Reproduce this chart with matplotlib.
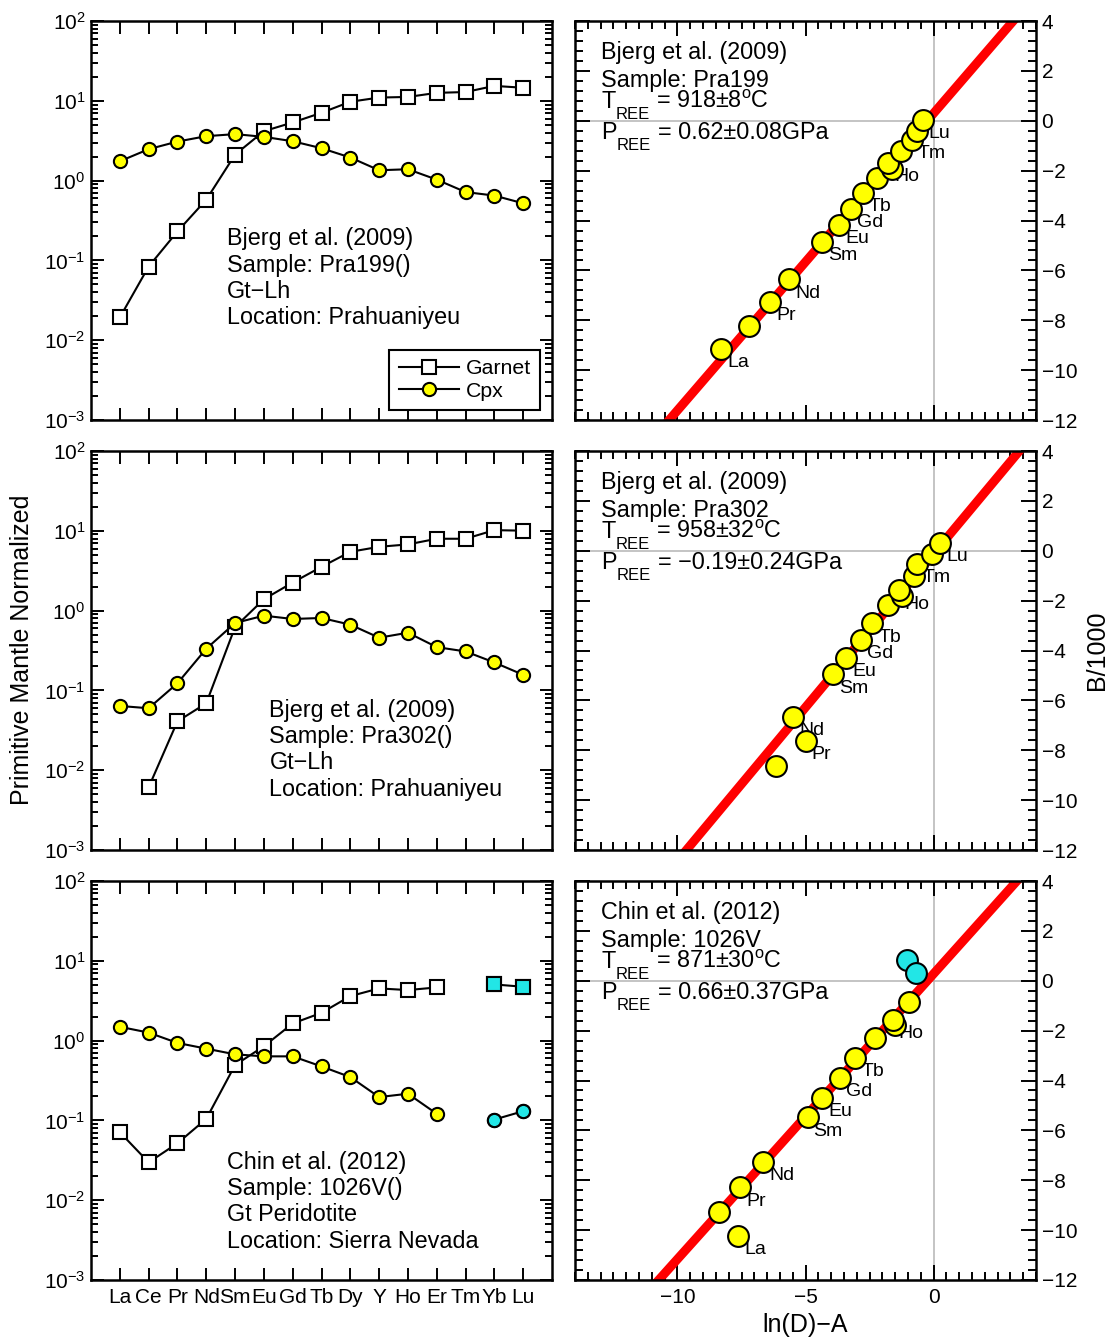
import numpy as np
import matplotlib.pyplot as plt
from matplotlib.ticker import MultipleLocator, LogLocator, NullFormatter

plt.rcParams['font.family'] = ['Liberation Sans', 'DejaVu Sans']
plt.rcParams['mathtext.fontset'] = 'custom'
plt.rcParams['mathtext.rm'] = 'Liberation Sans'
plt.rcParams['mathtext.it'] = 'Liberation Sans:italic'
plt.rcParams['mathtext.bf'] = 'Liberation Sans:bold'

nan = np.nan
ree = ['La', 'Ce', 'Pr', 'Nd', 'Sm', 'Eu', 'Gd', 'Tb', 'Dy', 'Y', 'Ho', 'Er', 'Tm', 'Yb', 'Lu']
labelled = ['La', 'Pr', 'Nd', 'Sm', 'Eu', 'Gd', 'Tb', 'Ho', 'Tm', 'Lu']

# primitive mantle normalized REE, garnet and cpx
gt_pra199 = [0.0193, 0.0838, 0.231, 0.577, 2.12, 4.17, 5.36, 7.09, 9.75, 11.0, 11.2, 12.6, 12.9, 15.4, 14.6]
cpx_pra199 = [1.75, 2.48, 3.09, 3.61, 3.83, 3.54, 3.12, 2.55, 1.95, 1.35, 1.39, 1.03, 0.72, 0.65, 0.52]
gt_pra302 = [nan, 0.0061, 0.041, 0.069, 0.623, 1.39, 2.25, 3.54, 5.46, 6.31, 6.76, 7.96, 7.96, 10.2, 10.05]
cpx_pra302 = [0.0639, 0.0598, 0.123, 0.333, 0.700, 0.865, 0.786, 0.809, 0.667, 0.458, 0.529, 0.349, 0.308, 0.224, 0.157]
gt_1026v = [0.0711, 0.0298, 0.0517, 0.1045, 0.494, 0.849, 1.64, 2.23, 3.61, 4.51, 4.30, 4.64, nan, 5.06, 4.73]
cpx_1026v = [1.49, 1.26, 0.935, 0.793, 0.673, 0.635, 0.635, 0.475, 0.349, 0.196, 0.216, 0.121, nan, 0.1025, 0.1305]

# REE thermometer: ln(D)-A vs B/1000
lnd_pra199 = [-8.29, -7.20, -6.39, -5.64, -4.36, -3.68, -3.21, -2.76, -2.20, -1.64, -1.77, -1.26, -0.86, -0.65, -0.42]
b_pra199 = [-9.14, -8.21, -7.27, -6.36, -4.85, -4.18, -3.53, -2.89, -2.29, -1.93, -1.68, -1.22, -0.75, -0.41, 0.03]
lnd_pra302 = [nan, -6.15, -5.00, -5.48, -3.94, -3.41, -2.83, -2.39, -1.79, -1.24, -1.36, -0.75, -0.65, -0.08, 0.26]
b_pra302 = [nan, -8.64, -7.61, -6.66, -4.96, -4.29, -3.58, -2.91, -2.19, -1.82, -1.58, -1.02, -0.51, -0.11, 0.32]
lnd_1026v = [-7.62, -8.36, -7.54, -6.66, -4.92, -4.36, -3.67, -3.06, -2.28, -1.51, -1.60, -0.95, nan, -1.03, -0.69]
b_1026v = [-10.23, -9.26, -8.29, -7.27, -5.48, -4.69, -3.88, -3.08, -2.28, -1.79, -1.57, -0.87, nan, 0.82, 0.31]

refs = ['Bjerg et al. (2009)', 'Bjerg et al. (2009)', 'Chin et al. (2012)']
samples = ['Pra199', 'Pra302', '1026V']
rocks = ['Gt\u2212Lh', 'Gt\u2212Lh', 'Gt Peridotite']
locations = ['Prahuaniyeu', 'Prahuaniyeu', 'Sierra Nevada']
t_ree = [918, 958, 871]
t_err = [8, 32, 30]
p_ree = [0.62, -0.19, 0.66]
p_err = [0.08, 0.24, 0.37]
fit_intercept = [0.30, -0.12, 0.28]
excluded = [[], [], ['Yb', 'Lu']]

gt_all = [gt_pra199, gt_pra302, gt_1026v]
cpx_all = [cpx_pra199, cpx_pra302, cpx_1026v]
lnd_all = [lnd_pra199, lnd_pra302, lnd_1026v]
b_all = [b_pra199, b_pra302, b_1026v]

text_pos = [(0.295, 0.438), (0.387, 0.334), (0.295, 0.279)]

YEL = '#ffff00'
CYAN = '#22e6e6'
GREY = '#b4b4b4'
FS = 16.8

fig = plt.figure(figsize=(11.14, 13.42), dpi=100)
col_x = [0.0817, 0.5162]
row_y = [0.6870, 0.3666, 0.0462]
w, h = 0.4138, 0.2973


def style(ax):
    for s in ax.spines.values():
        s.set_linewidth(1.8)
    ax.tick_params(which='both', direction='in', top=True, right=True, width=1.4,
                   labelsize=15)
    ax.tick_params(which='major', length=9)
    ax.tick_params(which='minor', length=5)


def sub_line(ax, x, y, main, sub, rest):
    # letter, lowered subscript, then the rest of the line
    t1 = ax.text(x, y, main, transform=ax.transAxes, fontsize=FS,
                 ha='left', va='baseline', zorder=5)
    t2 = ax.annotate(sub, xy=(1, y), xycoords=(t1, 'axes fraction'),
                     xytext=(0.3, -8), textcoords='offset points', fontsize=12,
                     ha='left', va='baseline', zorder=5)
    ax.annotate(rest, xy=(1, y), xycoords=(t2, 'axes fraction'),
                xytext=(4.5, 0), textcoords='offset points', fontsize=FS,
                ha='left', va='baseline', zorder=5)


for r in range(3):
    # ---- left: REE patterns
    ax = fig.add_axes([col_x[0], row_y[r], w, h])
    idx = np.arange(len(ree))
    gt = np.array(gt_all[r], float)
    cpx = np.array(cpx_all[r], float)
    ax.plot(idx, gt, '-s', color='k', lw=1.5, ms=10, mfc='white', mec='k', mew=1.5,
            label='Garnet')
    ax.plot(idx, cpx, '-o', color='k', lw=1.5, ms=9.5, mfc=YEL, mec='k', mew=1.5,
            label='Cpx')
    for el in excluded[r]:
        i = ree.index(el)
        ax.plot(i, gt[i], 's', ms=10, mfc=CYAN, mec='k', mew=1.5)
        ax.plot(i, cpx[i], 'o', ms=9.5, mfc=CYAN, mec='k', mew=1.5)
    ax.set_yscale('log')
    ax.set_ylim(1e-3, 1e2)
    ax.set_xlim(-1, 15)
    ax.set_xticks(idx)
    ax.set_xticklabels(ree)
    ax.yaxis.set_major_locator(LogLocator(base=10, numticks=10))
    ax.yaxis.set_minor_locator(LogLocator(base=10, subs=np.arange(2, 10), numticks=10))
    ax.yaxis.set_minor_formatter(NullFormatter())
    style(ax)
    ax.tick_params(axis='x', pad=6)
    ax.tick_params(axis='y', pad=4)
    if r < 2:
        ax.tick_params(labelbottom=False)
    tx, ty = text_pos[r]
    info = [refs[r], 'Sample: %s()' % samples[r], rocks[r], 'Location: %s' % locations[r]]
    for k, line in enumerate(info):
        ax.text(tx, ty - 0.066 * k, line, transform=ax.transAxes, fontsize=FS,
                ha='left', va='baseline')
    if r == 0:
        leg = ax.legend(loc='lower right', bbox_to_anchor=(0.975, 0.025), borderaxespad=0,
                        fontsize=15.3, fancybox=False, edgecolor='k', framealpha=1,
                        handlelength=2.85, handletextpad=0.3, borderpad=0.45,
                        labelspacing=0.15)
        leg.get_frame().set_linewidth(1.5)

    # ---- right: REE thermobarometer
    ax = fig.add_axes([col_x[1], row_y[r], w, h])
    ax.axhline(0, color=GREY, lw=1.1, zorder=1)
    ax.axvline(0, color=GREY, lw=1.1, zorder=1)
    xx = np.array([-14.0, 4.0])
    slope = (t_ree[r] + 273.15) / 1000.0
    ax.plot(xx, slope * xx + fit_intercept[r], color='red', lw=6.5,
            solid_capstyle='butt', zorder=2)
    for i, el in enumerate(ree):
        xv, yv = lnd_all[r][i], b_all[r][i]
        if np.isnan(xv):
            continue
        fc = CYAN if el in excluded[r] else YEL
        ax.plot(xv, yv, 'o', ms=15, mfc=fc, mec='k', mew=1.5, zorder=4)
        if el in labelled and el not in excluded[r]:
            ax.annotate(el, (xv, yv), xytext=(4.3, -10), textcoords='offset points',
                        ha='left', va='center', fontsize=14, zorder=3)
    ax.set_xlim(-14, 4)
    ax.set_ylim(-12, 4)
    ax.xaxis.set_major_locator(MultipleLocator(5))
    ax.xaxis.set_minor_locator(MultipleLocator(0.5))
    ax.yaxis.set_major_locator(MultipleLocator(2))
    ax.yaxis.set_minor_locator(MultipleLocator(0.4))
    style(ax)
    ax.tick_params(axis='both', which='major', length=11)
    ax.tick_params(which='minor', length=6)
    ax.tick_params(labelleft=False, labelright=True)
    ax.tick_params(axis='y', pad=4)
    ax.tick_params(axis='x', pad=6)
    if r < 2:
        ax.tick_params(labelbottom=False)
    p_txt = ('%.2f' % p_ree[r]).replace('-', '\u2212')
    ax.text(0.0566, 0.904, refs[r], transform=ax.transAxes, fontsize=FS,
            ha='left', va='baseline', zorder=5)
    ax.text(0.0566, 0.835, 'Sample: %s' % samples[r], transform=ax.transAxes,
            fontsize=FS, ha='left', va='baseline', zorder=5)
    sub_line(ax, 0.0566, 0.783, 'T', 'REE',
             r'= %d±$\mathrm{%d^{o}}$C' % (t_ree[r], t_err[r]))
    sub_line(ax, 0.0566, 0.705, 'P', 'REE',
             '= %s±%.2fGPa' % (p_txt, p_err[r]))

fig.text(0.0197, 0.5156, 'Primitive Mantle Normalized', rotation=90, fontsize=18,
         ha='center', va='center')
fig.text(0.9847, 0.5156, 'B/1000', rotation=90, fontsize=18, ha='center', va='center')
fig.text(0.7231, 0.0127, 'ln(D)\u2212A', fontsize=18, ha='center', va='center')

fig.savefig('out.png', dpi=100)
